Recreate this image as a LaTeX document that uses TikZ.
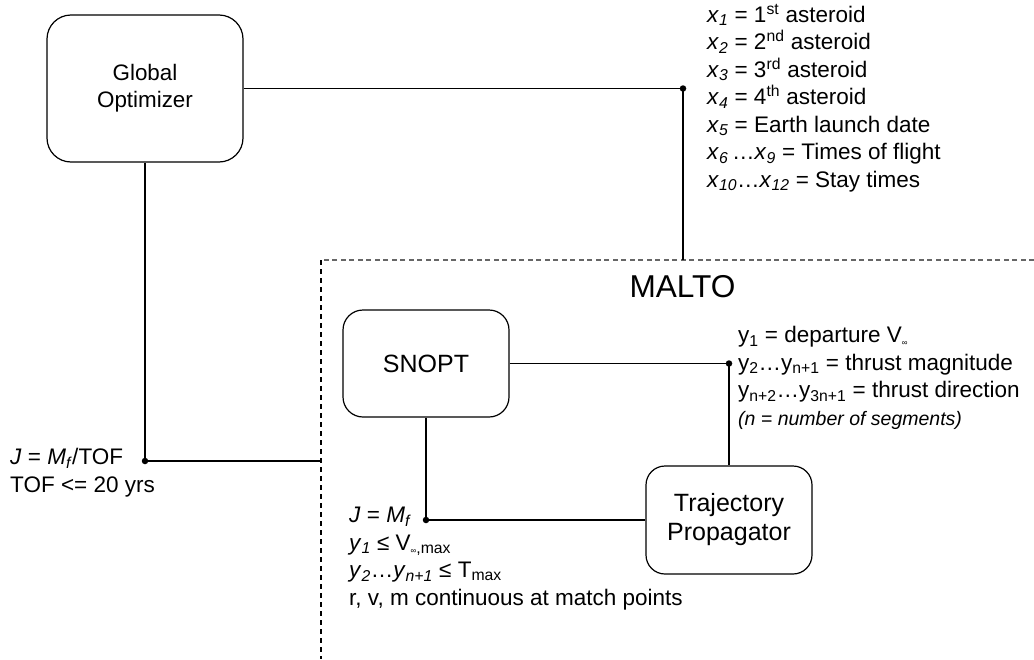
\documentclass[tikz,border=0pt]{standalone}
\usepackage{fontspec}
\setmainfont{Liberation Sans}
\newcommand{\tinf}{{\fontsize{8}{8}\selectfont ∞}}
\begin{document}
\begin{tikzpicture}[x=1pt,y=-1pt,
  rbox/.style={draw, line width=1.2pt, align=center, inner sep=0pt},
  conn/.style={line width=1.1pt},
  dot/.style={circle, fill, inner sep=0pt, minimum size=6.5pt},
  txt/.style={inner sep=0pt, anchor=base west, align=left, font=\fontsize{22.5}{27.5}\selectfont}]
\useasboundingbox (0,0) rectangle (1034,659);

% boxes
\node[rbox, rounded corners=24pt, minimum width=196pt, minimum height=147pt,
      font=\fontsize{22.4}{27}\selectfont] (go) at (145,88.5) {Global\\Optimizer};
\node[rbox, rounded corners=20pt, minimum width=166pt, minimum height=107pt,
      font=\fontsize{25}{29}\selectfont] (sn) at (426,363.5) {SNOPT};
\node[rbox, rounded corners=19pt, minimum width=166pt, minimum height=108pt,
      font=\fontsize{25}{29}\selectfont] (tp) at (729,520) {Trajectory\\Propagator};

% MALTO region
\coordinate (mc) at (321,260);
\coordinate (mr) at (1034,260);
\coordinate (mb) at (321,659);
\draw[line width=1.1pt, dash pattern=on 5pt off 3.5pt, black!60] (mr) -- (mc);
\draw[line width=1.1pt, dash pattern=on 5pt off 4pt] (mc) -- (mb);
\node[inner sep=0pt, anchor=base, font=\fontsize{31.6}{36}\selectfont] (malto) at (682.5,297) {MALTO};

% dots
\node[dot] (d1) at (683,88.5) {};
\node[dot] (d2) at (145,461) {};
\node[dot] (d3) at (729,363.5) {};
\node[dot] (d4) at (426,520) {};

% connectors
\draw[conn] (go.east) -- (d1.center) -- (d1.center |- mc);
\draw[conn] (go.south) -- (d2.center) -- (d2.center -| mc);
\draw[conn] (sn.east) -- (d3.center) -- (tp.north);
\draw[conn] (sn.south) -- (d4.center) -- (tp.west);

% texts (anchored at the baseline of their last line)
\node[txt] (xl) at (707,187) {%
\textit{x}\textsubscript{\textit{1}} = 1\textsuperscript{st} asteroid\\
\textit{x}\textsubscript{\textit{2}} = 2\textsuperscript{nd} asteroid\\
\textit{x}\textsubscript{\textit{3}} = 3\textsuperscript{rd} asteroid\\
\textit{x}\textsubscript{\textit{4}} = 4\textsuperscript{th} asteroid\\
\textit{x}\textsubscript{\textit{5}} = Earth launch date\\
\textit{x}\textsubscript{\textit{6}}\,…\textit{x}\textsubscript{\textit{9}} = Times of flight\\
\textit{x}\textsubscript{\textit{10}}…\textit{x}\textsubscript{\textit{12}} = Stay times};

\node[txt] (yl) at (738,425) {%
y\textsubscript{1} = departure V\textsubscript{\tinf}\\
y\textsubscript{2}…y\textsubscript{n+1} = thrust magnitude\\
y\textsubscript{n+2}…y\textsubscript{3n+1} = thrust direction\\
{\fontsize{19.5}{27.5}\selectfont\itshape (n = number of segments)}};

\node[txt] (cl) at (349,605) {%
\textit{J} = \textit{M}\textsubscript{\textit{f}}\\
\textit{y}\textsubscript{\textit{1}} ≤ V\textsubscript{\tinf,max}\\
\textit{y}\textsubscript{\textit{2}}…\textit{y}\textsubscript{\textit{n+1}} ≤ T\textsubscript{max}\\
r, v, m continuous at match points};

\node[txt] (jl) at (10,492) {%
\textit{J} = \textit{M}\textsubscript{\textit{f}}/TOF\\
TOF <= 20 yrs};
\end{tikzpicture}
\end{document}
